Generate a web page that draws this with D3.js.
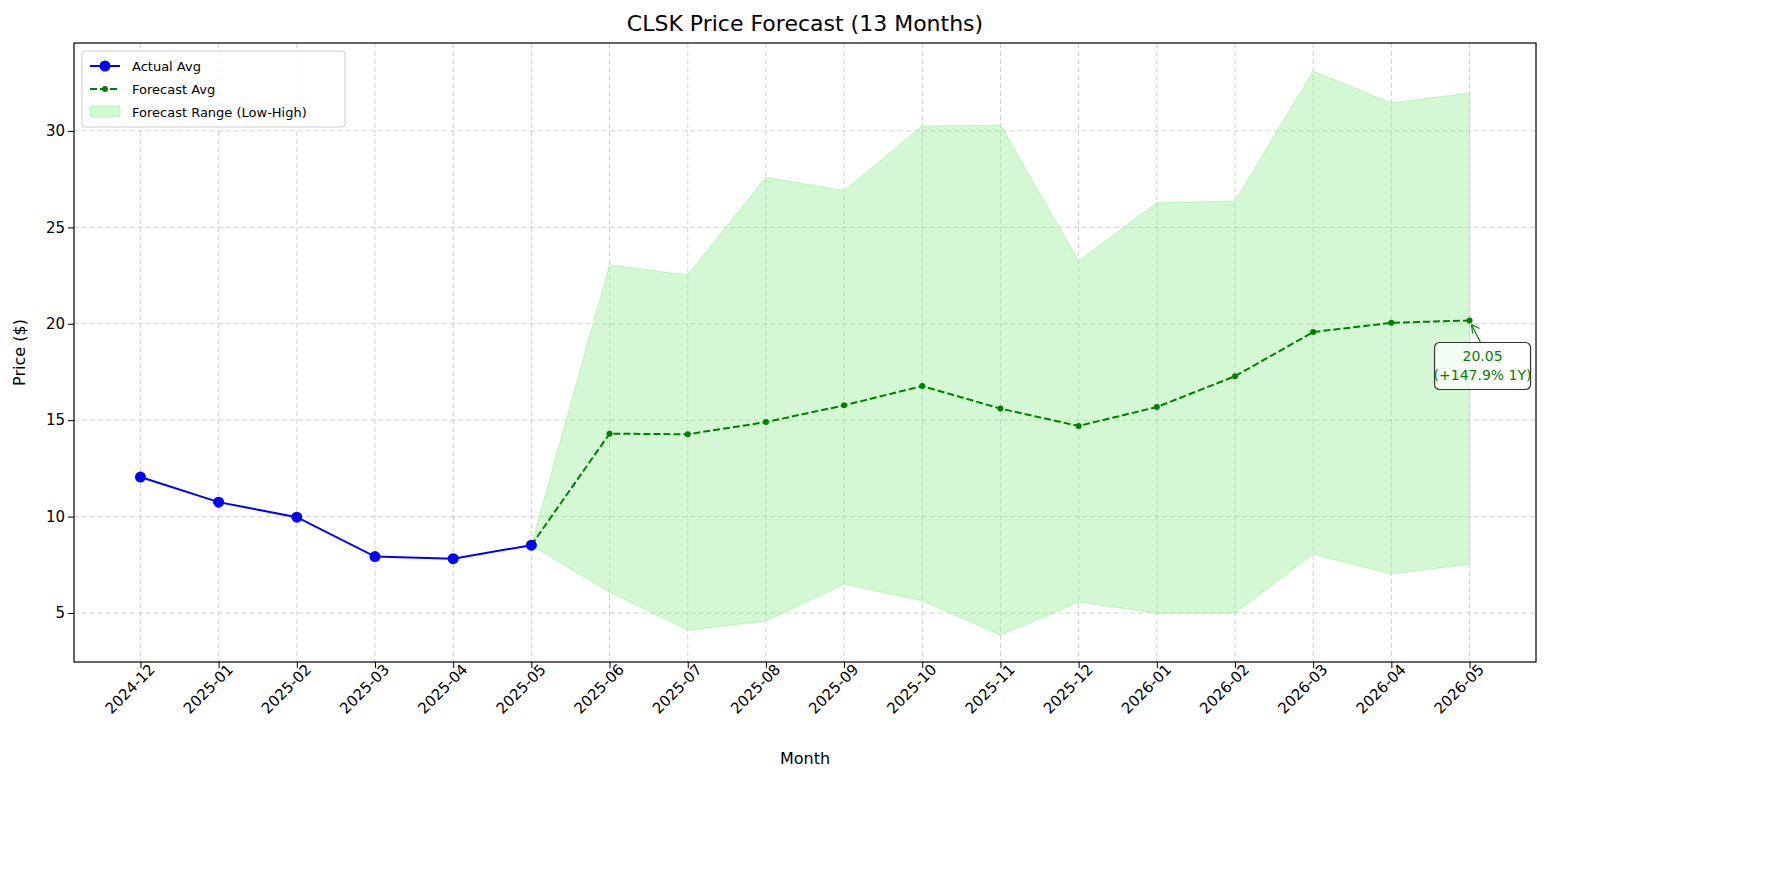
<!DOCTYPE html>
<html>
<head>
<meta charset="utf-8">
<script src="https://cdn.jsdelivr.net/npm/d3@7"></script>
<style>
  body { margin: 0; background: #fff; }
  text { font-family: "DejaVu Sans", sans-serif; }
</style>
</head>
<body>
<svg id="chart" width="1772" height="883"></svg>
<script>
var months = ["2024-12","2025-01","2025-02","2025-03","2025-04","2025-05","2025-06","2025-07","2025-08",
              "2025-09","2025-10","2025-11","2025-12","2026-01","2026-02","2026-03","2026-04","2026-05"];

var actualMonths = months.slice(0, 6);
var actualAvg = [12.05, 10.75, 9.97, 7.93, 7.82, 8.52];

var forecastMonths = months.slice(5);
var forecastAvg = [8.52, 14.30, 14.27, 14.90, 15.77, 16.77, 15.60, 14.70, 15.68, 17.28, 19.57, 20.05, 20.17];
var forecastHigh = [8.52, 23.05, 22.53, 27.60, 26.90, 30.26, 30.30, 23.26, 26.27, 26.37, 33.10, 31.45, 31.97];
var forecastLow = [8.52, 6.09, 4.12, 4.59, 6.50, 5.63, 3.86, 5.57, 5.00, 5.00, 8.06, 7.02, 7.54];

var yTicks = [5, 10, 15, 20, 25, 30];

var svg = d3.select('#chart');
var pLeft = 74, pRight = 1536, pTop = 43, pBottom = 662;

var x = d3.scaleLinear().domain([-0.85, months.length - 1 + 0.85]).range([pLeft, pRight]);
var y = d3.scaleLinear().domain([2.46, 34.56]).range([pBottom, pTop]);
var xi = function (m) { return x(months.indexOf(m)); };

// grid
svg.append('g').selectAll('line').data(months).join('line')
  .attr('x1', function (d) { return xi(d); }).attr('x2', function (d) { return xi(d); })
  .attr('y1', pTop).attr('y2', pBottom)
  .attr('stroke', '#b0b0b0').attr('stroke-dasharray', '5,3').attr('stroke-width', 0.8).attr('opacity', 0.7);
svg.append('g').selectAll('line').data(yTicks).join('line')
  .attr('x1', pLeft).attr('x2', pRight)
  .attr('y1', function (d) { return y(d); }).attr('y2', function (d) { return y(d); })
  .attr('stroke', '#b0b0b0').attr('stroke-dasharray', '5,3').attr('stroke-width', 0.8).attr('opacity', 0.7);

// forecast range
var band = forecastMonths.map(function (m, i) { return { m: m, lo: forecastLow[i], hi: forecastHigh[i] }; });
svg.append('path').datum(band)
  .attr('d', d3.area().x(function (d) { return xi(d.m); }).y0(function (d) { return y(d.lo); }).y1(function (d) { return y(d.hi); }))
  .attr('fill', '#90ee90').attr('fill-opacity', 0.4).attr('stroke', '#90ee90').attr('stroke-opacity', 0.5);

// forecast avg
var fc = forecastMonths.map(function (m, i) { return { m: m, v: forecastAvg[i] }; });
svg.append('path').datum(fc)
  .attr('d', d3.line().x(function (d) { return xi(d.m); }).y(function (d) { return y(d.v); }))
  .attr('fill', 'none').attr('stroke', 'green').attr('stroke-width', 2).attr('stroke-dasharray', '7,3');
svg.append('g').selectAll('circle').data(fc).join('circle')
  .attr('cx', function (d) { return xi(d.m); }).attr('cy', function (d) { return y(d.v); })
  .attr('r', 3).attr('fill', 'green');

// actual avg
var ac = actualMonths.map(function (m, i) { return { m: m, v: actualAvg[i] }; });
svg.append('path').datum(ac)
  .attr('d', d3.line().x(function (d) { return xi(d.m); }).y(function (d) { return y(d.v); }))
  .attr('fill', 'none').attr('stroke', 'blue').attr('stroke-width', 2);
svg.append('g').selectAll('circle').data(ac).join('circle')
  .attr('cx', function (d) { return xi(d.m); }).attr('cy', function (d) { return y(d.v); })
  .attr('r', 5.5).attr('fill', 'blue');

// frame
svg.append('rect').attr('x', pLeft).attr('y', pTop).attr('width', pRight - pLeft).attr('height', pBottom - pTop)
  .attr('fill', 'none').attr('stroke', '#000').attr('stroke-width', 1.2);

// axes
var xAxis = svg.append('g').attr('transform', 'translate(0,' + pBottom + ')')
  .call(d3.axisBottom(x).tickValues(d3.range(months.length)).tickFormat(function (i) { return months[i]; }).tickSizeOuter(0));
xAxis.select('.domain').remove();
xAxis.selectAll('text').attr('font-size', 15).attr('fill', '#000')
  .attr('text-anchor', 'end').attr('dx', '0.3em').attr('dy', '0.5em').attr('transform', 'rotate(-45)');

var yAxis = svg.append('g').attr('transform', 'translate(' + pLeft + ',0)')
  .call(d3.axisLeft(y).tickValues(yTicks).tickSizeOuter(0));
yAxis.select('.domain').remove();
yAxis.selectAll('text').attr('font-size', 15).attr('fill', '#000');

svg.append('text').attr('x', (pLeft + pRight) / 2).attr('y', 31).attr('text-anchor', 'middle')
  .attr('font-size', 22).text('CLSK Price Forecast (13 Months)');
svg.append('text').attr('x', (pLeft + pRight) / 2).attr('y', 764).attr('text-anchor', 'middle')
  .attr('font-size', 16).text('Month');
svg.append('text').attr('transform', 'translate(25,' + ((pTop + pBottom) / 2) + ') rotate(-90)')
  .attr('text-anchor', 'middle').attr('font-size', 16).text('Price ($)');

// annotation
var last = fc[fc.length - 1];
var ax = xi(last.m) + 13, ay = y(last.v) + 42;
svg.append('line').attr('x1', ax - 2).attr('y1', ay - 20).attr('x2', xi(last.m) + 2).attr('y2', y(last.v) + 4)
  .attr('stroke', 'green').attr('stroke-width', 1.2);
svg.append('path').attr('d', 'M' + (xi(last.m) + 2) + ',' + (y(last.v) + 4) + ' l1,9 M' + (xi(last.m) + 2) + ',' + (y(last.v) + 4) + ' l8,4')
  .attr('stroke', 'green').attr('stroke-width', 1.2).attr('fill', 'none');
svg.append('rect').attr('x', ax - 48).attr('y', ay - 20).attr('width', 96).attr('height', 47).attr('rx', 5)
  .attr('fill', 'white').attr('fill-opacity', 0.75).attr('stroke', '#333').attr('stroke-width', 1.2);
svg.append('text').attr('x', ax).attr('y', ay - 1).attr('text-anchor', 'middle').attr('font-size', 14).attr('fill', 'green')
  .text(forecastAvg[forecastAvg.length - 2].toFixed(2));
svg.append('text').attr('x', ax).attr('y', ay + 18).attr('text-anchor', 'middle').attr('font-size', 14).attr('fill', 'green')
  .text('(+147.9% 1Y)');

// legend
var lg = svg.append('g').attr('transform', 'translate(82,51)');
lg.append('rect').attr('width', 263).attr('height', 76).attr('rx', 3)
  .attr('fill', 'white').attr('fill-opacity', 0.8).attr('stroke', '#ccc');
lg.append('line').attr('x1', 8).attr('x2', 38).attr('y1', 15).attr('y2', 15).attr('stroke', 'blue').attr('stroke-width', 2);
lg.append('circle').attr('cx', 23).attr('cy', 15).attr('r', 5.5).attr('fill', 'blue');
lg.append('line').attr('x1', 8).attr('x2', 38).attr('y1', 38).attr('y2', 38).attr('stroke', 'green').attr('stroke-width', 2).attr('stroke-dasharray', '7,3');
lg.append('circle').attr('cx', 23).attr('cy', 38).attr('r', 3).attr('fill', 'green');
lg.append('rect').attr('x', 8).attr('y', 55).attr('width', 30).attr('height', 11)
  .attr('fill', '#90ee90').attr('fill-opacity', 0.4).attr('stroke', '#90ee90').attr('stroke-opacity', 0.5);
[['Actual Avg', 15], ['Forecast Avg', 38], ['Forecast Range (Low-High)', 61]].forEach(function (d) {
  lg.append('text').attr('x', 50).attr('y', d[1] + 5).attr('font-size', 13).text(d[0]);
});
</script>
</body>
</html>
